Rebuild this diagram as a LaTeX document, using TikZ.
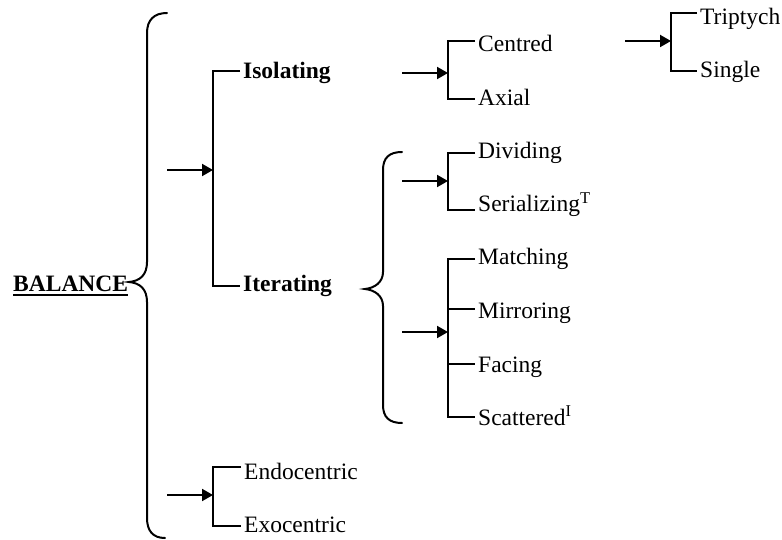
\documentclass[tikz,border=0pt]{standalone}
\usepackage{fontspec}
\setmainfont{Liberation Serif}
\newcommand{\myunderline}[1]{\setbox0=\hbox{#1}\rlap{\rule[-4bp]{\wd0}{2bp}}\box0}
\usetikzlibrary{arrows.meta}
\begin{document}
\begin{tikzpicture}[x=1bp,y=-1bp,
  lbl/.style={anchor=base west, inner xsep=3bp, inner ysep=0pt, font=\fontsize{23.5bp}{28bp}\selectfont},
  blbl/.style={lbl, font=\fontsize{23.5bp}{28bp}\selectfont\bfseries},
  brk/.style={line width=2bp, line join=miter},
  thinbrk/.style={line width=1.2bp},
  arr/.style={line width=2bp, -{Triangle[length=11bp,width=12bp]}},
  bracepath/.style={line width=2bp, line cap=round}]
\useasboundingbox (0,0) rectangle (782,540);

% root
\node[blbl] (bal) at (10,292) {\myunderline{BALANCE}};
\coordinate (bt) at (167,13);
\coordinate (bm) at (129,282);
\coordinate (bb) at (165,538);
\draw[bracepath] (bt) .. controls (154,13) and (147,20) .. (147,33) -- (147,262)
  .. controls (147,275) and (140,281) .. (bm)
  .. controls (140,283) and (147,289) .. (147,302) -- (147,518)
  .. controls (147,531) and (153,538) .. (bb);

% level 1
\node[blbl] (iso) at (240,79) {Isolating};
\node[blbl] (ite) at (240,292) {Iterating};
\coordinate (k1) at (213,71);
\coordinate (k2) at (213,286);
\coordinate (ka) at (213,170);
\coordinate (ks) at (167,170);
\draw[brk] (k1 -| iso.west) -- (k1) -- (k2) -- (k2 -| ite.west);
\draw[arr] (ks) -- (ka);

\node[lbl] (endo) at (241,479) {Endocentric};
\node[lbl] (exo) at (241,532) {Exocentric};
\coordinate (e1) at (213,467);
\coordinate (e2) at (213,526);
\coordinate (ea) at (213,495);
\coordinate (es) at (167,495);
\draw[brk] (e1 -| endo.west) -- (e1) -- (e2) -- (e2 -| exo.west);
\draw[arr] (es) -- (ea);

% isolating branch
\node[lbl] (cen) at (475,52) {Centred};
\node[lbl] (axi) at (475,106) {Axial};
\coordinate (c1) at (448,41);
\coordinate (c2) at (448,99);
\coordinate (ca) at (448,73);
\coordinate (cs) at (402,73);
\draw[brk] (c1 -| cen.west) -- (c1) -- (c2) -- (c2 -| axi.west);
\draw[arr] (cs) -- (ca);

\node[lbl] (tri) at (697,25) {Triptych};
\node[lbl] (sin) at (697,78) {Single};
\coordinate (t1) at (671,13);
\coordinate (t2) at (671,71);
\coordinate (ta) at (671,41);
\coordinate (ts) at (625,41);
\draw[brk] (t1 -| tri.west) -- (t1) -- (t2) -- (t2 -| sin.west);
\draw[arr] (ts) -- (ta);

% iterating brace
\coordinate (it) at (402,152);
\coordinate (im) at (365,289);
\coordinate (ib) at (402,423);
\draw[bracepath] (it) .. controls (389,152) and (383,158) .. (383,170) -- (383,272)
  .. controls (383,282) and (375,288) .. (im)
  .. controls (375,290) and (383,296) .. (383,306) -- (383,405)
  .. controls (383,417) and (389,423) .. (ib);

% dividing group
\node[lbl] (div) at (475,159) {Dividing};
\node[lbl] (ser) at (475,212) {Serializing\textsuperscript{T}};
\coordinate (d1) at (448,153);
\coordinate (d2) at (448,210);
\coordinate (da) at (448,181);
\coordinate (ds) at (402,181);
\draw[brk] (d1 -| div.west) -- (d1) -- (d2) -- (d2 -| ser.west);
\draw[arr] (ds) -- (da);

% matching group
\node[lbl] (mat) at (475,265) {Matching};
\node[lbl] (mir) at (475,318) {Mirroring};
\node[lbl] (fac) at (475,372) {Facing};
\node[lbl] (sca) at (475,425) {Scattered\textsuperscript{I}};
\coordinate (m1) at (448,259);
\coordinate (m2) at (448,309);
\coordinate (m3) at (448,364);
\coordinate (m4) at (448,417);
\coordinate (ma) at (448,332);
\coordinate (ms) at (402,332);
\draw[brk] (m1 -| mat.west) -- (m1) -- (m4) -- (m4 -| sca.west);
\draw[thinbrk] (m2) -- (m2 -| mir.west);
\draw[thinbrk] (m3) -- (m3 -| fac.west);
\draw[arr] (ms) -- (ma);
\end{tikzpicture}
\end{document}
